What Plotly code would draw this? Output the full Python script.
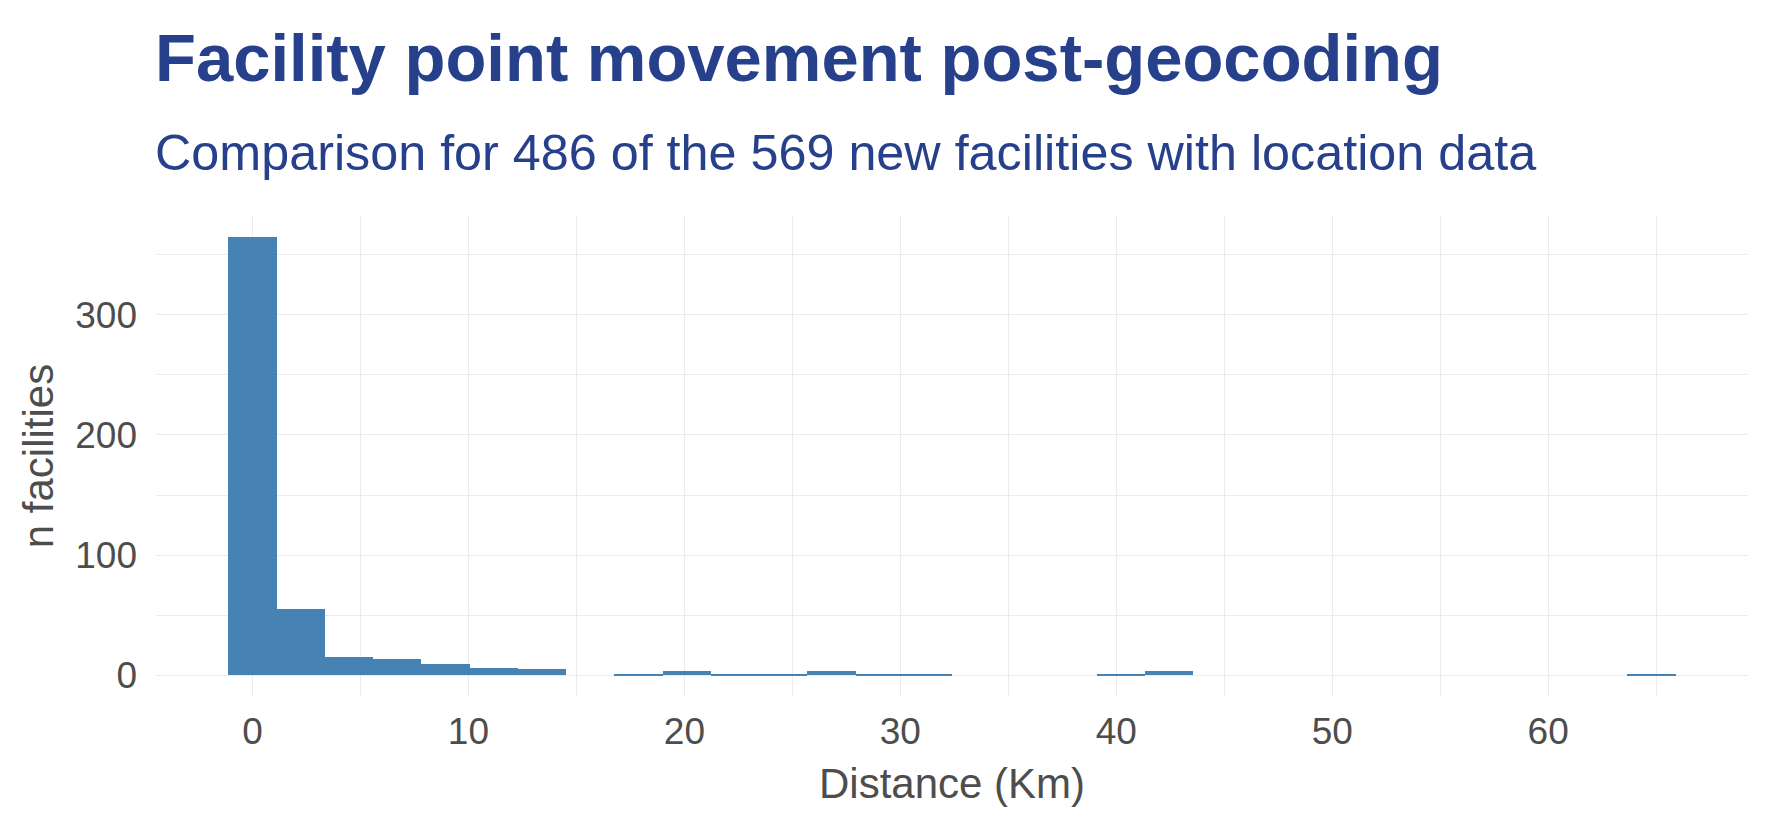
import plotly.graph_objects as go

# Histogram data (ggplot-style 30 bins, centered at 0)
bin_width = 2.234
bin_index = list(range(30))
counts = [365, 55, 15, 13, 9, 6, 5, 0, 1, 3,
          1, 1, 3, 1, 1, 0, 0, 0, 1, 3,
          0, 0, 0, 0, 0, 0, 0, 0, 0, 1]
x_ticks = [0, 10, 20, 30, 40, 50, 60]
y_ticks = [0, 100, 200, 300]

title_text = "Facility point movement post-geocoding"
subtitle_text = "Comparison for 486 of the 569 new facilities with location data"
x_title = "Distance (Km)"
y_title = "n facilities"

centers = [i * bin_width for i in bin_index]

W, H = 1771, 826
L, R, T, B = 156, 23, 215, 129
plot_h = H - T - B

def py(pix):
    return (H - B - pix) / plot_h

TITLE_COL = "#27408B"
TEXT_COL = "#4D4D4D"
GRID = "#EBEBEB"
FONT = "Liberation Sans, Arial, sans-serif"

fig = go.Figure(go.Bar(
    x=centers, y=counts, width=bin_width,
    marker=dict(color="#4682B4", line=dict(width=0)),
))

xmin = -bin_width / 2 - 0.05 * (bin_width * 30)
xmax = centers[-1] + bin_width / 2 + 0.05 * (bin_width * 30)
ymax = max(counts)

fig.update_layout(
    width=W, height=H,
    margin=dict(l=L, r=R, t=T, b=B),
    paper_bgcolor="white", plot_bgcolor="white",
    bargap=0, showlegend=False,
    font=dict(family=FONT, color=TEXT_COL),
    xaxis=dict(
        range=[xmin, xmax], tickvals=x_ticks, ticktext=[str(v) for v in x_ticks],
        showgrid=True, gridcolor=GRID, gridwidth=1, zeroline=False,
        minor=dict(dtick=5, tick0=5, showgrid=True, gridcolor=GRID, gridwidth=1),
        ticks="", tickfont=dict(size=37, color=TEXT_COL, family=FONT),
        ticklabelstandoff=9,
        title=dict(text=x_title, font=dict(size=42, color=TEXT_COL, family=FONT), standoff=17),
        showline=False,
    ),
    yaxis=dict(
        range=[-0.05 * ymax, ymax * 1.05], tickvals=y_ticks, ticktext=[str(v) for v in y_ticks],
        showgrid=True, gridcolor=GRID, gridwidth=1, zeroline=False,
        minor=dict(dtick=50, tick0=50, showgrid=True, gridcolor=GRID, gridwidth=1),
        ticks="", tickfont=dict(size=37, color=TEXT_COL, family=FONT),
        ticklabelstandoff=18,
        title=dict(text=y_title, font=dict(size=42, color=TEXT_COL, family=FONT), standoff=8),
        showline=False,
    ),
    annotations=[
        dict(text="<b>" + title_text + "</b>", xref="paper", yref="paper",
             x=0, y=py(57), xanchor="left", yanchor="middle", showarrow=False,
             font=dict(size=67, color=TITLE_COL, family=FONT), xshift=-3),
        dict(text=subtitle_text, xref="paper", yref="paper",
             x=0, y=py(152), xanchor="left", yanchor="middle", showarrow=False,
             font=dict(size=50.3, color=TITLE_COL, family=FONT), xshift=-3),
    ],
)

fig.write_html("out.html")
